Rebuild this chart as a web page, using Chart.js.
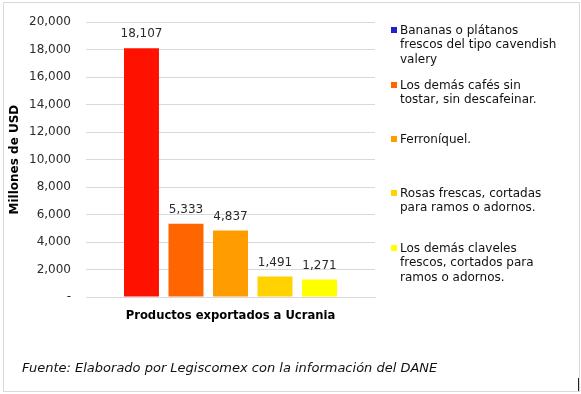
<!DOCTYPE html>
<html>
<head>
<meta charset="utf-8">
<script src="https://cdn.jsdelivr.net/npm/chart.js@4"></script>
<style>
  body { margin: 0; background: #fff; }
  #wrap { position: relative; width: 581px; height: 394px; overflow: hidden; font-family: "DejaVu Sans", Verdana, sans-serif; }
  #frame { position: absolute; left: 3px; top: 2px; width: 575px; height: 388px; border: 1px solid #D9D9D9; }
  #c { position: absolute; left: 0; top: 0; }
  .item { position: absolute; left: 400px; font-size: 12px; line-height: 14.5px; color: #111; white-space: pre; }
  .box { position: absolute; left: -9px; top: 4px; width: 6px; height: 6px; }
  #source { position: absolute; left: 22px; top: 360px; font-size: 13px; line-height: 15px; font-style: italic; color: #111; }
  #mark { position: absolute; left: 578px; top: 378px; width: 1px; height: 13px; background: #222; }
</style>
</head>
<body>
<div id="wrap">
  <div id="frame"></div>
  <canvas id="c" width="581" height="394"></canvas>
  <div id="legend"></div>
  <div id="source">Fuente: Elaborado por Legiscomex con la información del DANE</div>
  <div id="mark"></div>
</div>
<script>
// Productos y valores (millones de USD)
const products = [
    "Bananas o plátanos\nfrescos del tipo cavendish\nvalery",
    "Los demás cafés sin\ntostar, sin descafeinar.",
    "Ferroníquel.",
    "Rosas frescas, cortadas\npara ramos o adornos.",
    "Los demás claveles\nfrescos, cortados para\nramos o adornos."
];
const values = [18107, 5333, 4837, 1491, 1271];
const barColors = ["#FF1100", "#FF6600", "#FF9C00", "#FFD200", "#FFFF00"];
const legendColors = ["#2222CC", "#FF6600", "#FF9C00", "#FFD200", "#FFFF00"];
const legendTops = [22.75, 77.75, 131.75, 185.75, 240.75];
const yTicks = [0, 2000, 4000, 6000, 8000, 10000, 12000, 14000, 16000, 18000, 20000];

const textColor = "#2b2b2b";
const gridColor = "#D9D9D9";
const fontFamily = "'DejaVu Sans', Verdana, sans-serif";

// Etiquetas de valor encima de cada barra
const valueLabels = {
    id: "valueLabels",
    afterDatasetsDraw(chart) {
        const ctx = chart.ctx;
        ctx.save();
        ctx.font = "12px " + fontFamily;
        ctx.fillStyle = textColor;
        ctx.textAlign = "center";
        ctx.textBaseline = "bottom";
        chart.data.datasets.forEach((ds, i) => {
            chart.getDatasetMeta(i).data.forEach((bar, j) => {
                ctx.fillText(ds.data[j].toLocaleString("en-US"), bar.x, bar.y - 8);
            });
        });
        ctx.restore();
    }
};

const datasets = products.map((name, i) => ({
    label: name,
    data: [values[i]],
    backgroundColor: barColors[i],
    categoryPercentage: 0.77,
    barPercentage: 0.786
}));

new Chart(document.getElementById("c"), {
    type: "bar",
    data: { labels: [""], datasets: datasets },
    options: {
        responsive: false,
        animation: false,
        layout: { padding: { left: 0, right: 206, top: 19, bottom: 67 } },
        plugins: { legend: { display: false }, tooltip: { enabled: false } },
        scales: {
            x: {
                grid: { display: false },
                border: { display: true, color: gridColor },
                ticks: { display: false },
                title: {
                    display: true,
                    text: "Productos exportados a Ucrania",
                    color: "#000",
                    font: { family: fontFamily, size: 11.6, weight: "bold" },
                    padding: { top: 0, bottom: 4 }
                },
                afterFit(scale) { scale.height = 30; }
            },
            y: {
                min: 0,
                max: 20000,
                afterBuildTicks(scale) { scale.ticks = yTicks.map(v => ({ value: v })); },
                grid: { color: gridColor, drawTicks: false },
                border: { display: false },
                ticks: {
                    padding: 15,
                    color: textColor,
                    font: { family: fontFamily, size: 12 },
                    callback: v => v === 0 ? "-" : v.toLocaleString("en-US")
                },
                title: {
                    display: true,
                    text: "Millones de USD",
                    color: "#000",
                    font: { family: fontFamily, size: 12, weight: "bold" },
                    padding: { top: 8, bottom: 0 }
                },
                afterFit(scale) { scale.width = 86; }
            }
        }
    },
    plugins: [valueLabels]
});

// Leyenda (los colores de la leyenda difieren de las barras en el original)
const legend = document.getElementById("legend");
products.forEach((name, i) => {
    const item = document.createElement("div");
    item.className = "item";
    item.style.top = legendTops[i] + "px";
    item.textContent = name;
    const box = document.createElement("span");
    box.className = "box";
    box.style.background = legendColors[i];
    item.appendChild(box);
    legend.appendChild(item);
});
</script>
</body>
</html>
